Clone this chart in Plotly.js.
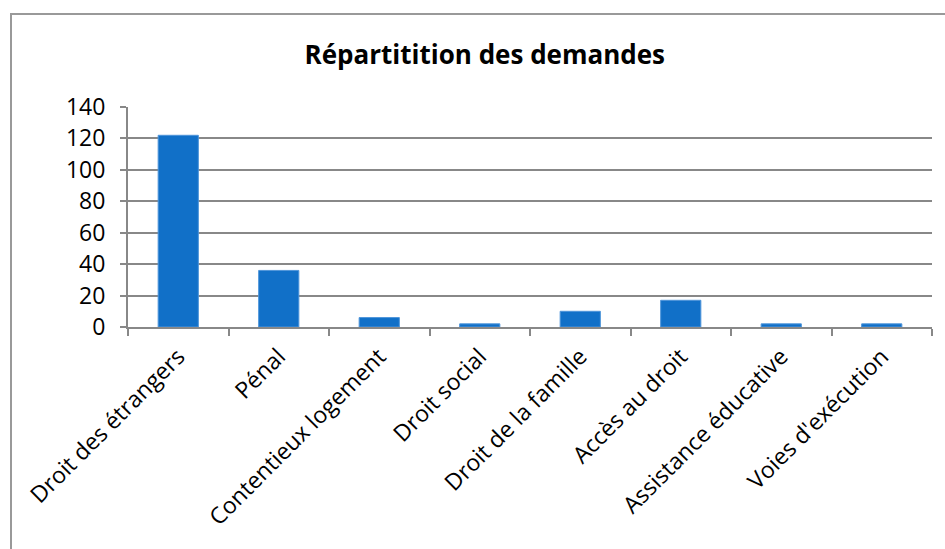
<!DOCTYPE html>
<html>
<head>
<meta charset="utf-8">
<script src="https://cdn.plot.ly/plotly-3.0.1.min.js"></script>
<style>
  body { margin: 0; background: #ffffff; }
  #chart { position: absolute; left: 0; top: 0; width: 945px; height: 549px; }
  #frame { position: absolute; left: 10px; top: 13px; width: 940px; height: 540px;
           border: 2px solid #999999; pointer-events: none; }
</style>
</head>
<body>
<div id="chart"></div>
<div id="frame"></div>
<script>
// Demandes par domaine
var categories = ['Droit des étrangers', 'Pénal', 'Contentieux logement', 'Droit social',
                  'Droit de la famille', 'Accès au droit', 'Assistance éducative', "Voies d'exécution"];
var counts = [122, 36, 6, 2, 10, 17, 2, 2];
var yTicks = [0, 20, 40, 60, 80, 100, 120, 140];

var data = [{
    x: categories,
    y: counts,
    type: 'bar',
    marker: {
        color: '#1170c8',
        line: { color: '#4f95da', width: 1 }
    },
    hoverinfo: 'x+y'
}];

var layout = {
    width: 945,
    height: 549,
    paper_bgcolor: '#ffffff',
    plot_bgcolor: '#ffffff',
    font: {
        family: '"Open Sans", Lato, sans-serif',
        color: '#000000',
        size: 23
    },
    margin: {
        l: 128,
        r: 13,
        t: 107,
        b: 222
    },
    bargap: 0.6,
    showlegend: false,
    title: {
        text: '<b>Répartitition des demandes</b>',
        font: { size: 26 },
        xref: 'container',
        x: 0.513,
        xanchor: 'center',
        yref: 'container',
        y: 0.9,
        yanchor: 'middle'
    },
    xaxis: {
        type: 'category',
        tickangle: -45,
        showline: true,
        linecolor: '#888888',
        linewidth: 2,
        ticks: 'outside',
        tickson: 'boundaries',
        ticklen: 7,
        tickcolor: '#888888',
        tickwidth: 2,
        ticklabelstandoff: 5,
        showgrid: false,
        fixedrange: true
    },
    yaxis: {
        range: [0, 140],
        tickvals: yTicks,
        showline: true,
        linecolor: '#888888',
        linewidth: 2,
        ticks: 'outside',
        ticklen: 6,
        tickcolor: '#888888',
        tickwidth: 2,
        ticklabelstandoff: 10,
        showgrid: true,
        gridcolor: '#888888',
        gridwidth: 2,
        zeroline: false,
        fixedrange: true
    }
};

Plotly.newPlot('chart', data, layout, { displayModeBar: false, staticPlot: true });
</script>
</body>
</html>
